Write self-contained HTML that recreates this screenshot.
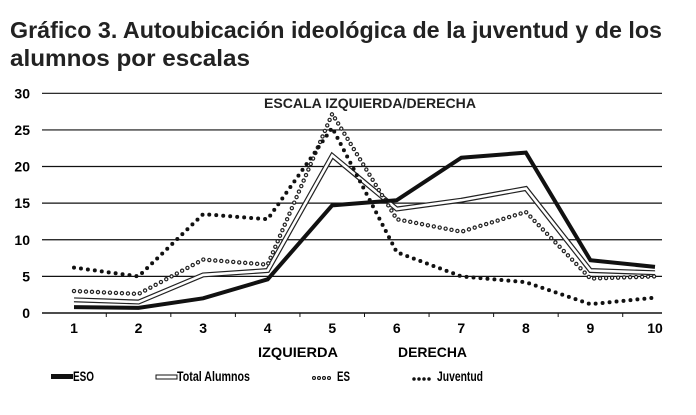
<!DOCTYPE html>
<html><head><meta charset="utf-8"><style>
body{margin:0;background:#fff;}
svg{display:block;font-family:"Liberation Sans Narrow","Liberation Sans",sans-serif;}
</style></head><body>
<svg width="696" height="415" viewBox="0 0 696 415">
<text x="10" y="38" font-size="23" font-weight="bold" fill="#222" textLength="652" lengthAdjust="spacingAndGlyphs">Gráfico 3. Autoubicación ideológica de la juventud y de los</text>
<text x="10" y="66" font-size="23" font-weight="bold" fill="#222" textLength="240" lengthAdjust="spacingAndGlyphs">alumnos por escalas</text>
<text x="264" y="108" font-size="14" font-weight="bold" fill="#222" textLength="212" lengthAdjust="spacingAndGlyphs">ESCALA IZQUIERDA/DERECHA</text>
<g id="grid"></g><g id="axis"></g><g id="series"></g>
<text x="258" y="357" font-size="14" font-weight="bold" textLength="80" lengthAdjust="spacingAndGlyphs">IZQUIERDA</text>
<text x="398" y="357" font-size="14" font-weight="bold" textLength="69" lengthAdjust="spacingAndGlyphs">DERECHA</text>
<g>
<g><rect x="51" y="374" width="22" height="5" fill="#111"/><text x="73" y="381" font-size="14" font-weight="bold" textLength="21" lengthAdjust="spacingAndGlyphs">ESO</text></g>
<g><rect x="156" y="375" width="21" height="4" fill="#fff" stroke="#111" stroke-width="1"/><text x="177" y="381" font-size="14" font-weight="bold" textLength="73" lengthAdjust="spacingAndGlyphs">Total Alumnos</text></g>
<g><path d="M314 378 L330 378" stroke="#111" stroke-width="4" stroke-dasharray="0 5" stroke-linecap="round"/><path d="M314 378 L330 378" stroke="#fff" stroke-width="1.8" stroke-dasharray="0 5" stroke-linecap="round"/><text x="337" y="381" font-size="14" font-weight="bold" textLength="13" lengthAdjust="spacingAndGlyphs">ES</text></g>
<g><path d="M414 379 L430 379" stroke="#111" stroke-width="3.5" stroke-dasharray="0 5" stroke-linecap="round"/><text x="437" y="381" font-size="14" font-weight="bold" textLength="46" lengthAdjust="spacingAndGlyphs">Juventud</text></g>
</g>
</svg>
<script>
const categories=["1","2","3","4","5","6","7","8","9","10"];
const yTicks=[0,5,10,15,20,25,30];
const eso=[0.8,0.7,2,4.6,14.7,15.4,21.2,21.9,7.2,6.3];
const totalAlumnos=[1.8,1.5,5.2,5.8,21.5,14.2,15.4,17,5.8,5.5];
const es=[3,2.6,7.3,6.6,27.2,12.8,11.1,13.8,4.7,5.0];
const juventud=[6.2,5,13.5,12.8,25.3,8.3,5,4.2,1.2,2.1];
const NS="http://www.w3.org/2000/svg";
const x0=74,x1=655,y0=313,y1=93.3,left=42,right=662;
function xs(i){return x0+(x1-x0)*i/(categories.length-1);}
function ys(v){return y0+(y1-y0)*v/30;}
function mk(tag,attrs,parent){const e=document.createElementNS(NS,tag);for(const k in attrs)e.setAttribute(k,attrs[k]);parent.appendChild(e);return e;}
const grid=document.getElementById('grid'),axis=document.getElementById('axis'),ser=document.getElementById('series');
yTicks.forEach(t=>{
 const l=mk('line',{x1:left,x2:right,y1:ys(t),y2:ys(t),stroke:'#111','stroke-width':t===0?1.5:1.2},grid);
 
 
 const tx=mk('text',{x:30,y:ys(t)+5,'font-size':14,'font-weight':'bold','text-anchor':'end'},axis);
 tx.textContent=t;
 
 
});
const step=(x1-x0)/(categories.length-1);
for(let i=0;i<=categories.length;i++){
 const xx=x0-step/2+i*step;if(xx<left||xx>right)continue;
 const tk=mk('line',{x1:xx,x2:xx,y1:y0,y2:y0+4,stroke:'#111','stroke-width':1},axis);
 
 
}
categories.forEach((c,i)=>{
 const tx=mk('text',{x:xs(i),y:333,'font-size':14,'font-weight':'bold','text-anchor':'middle'},axis);
 tx.textContent=c;
 
 
});
function pts(arr){return arr.map((v,i)=>xs(i)+','+ys(v)).join(' ');}
function line(arr,attrs,name){const p=mk('polyline',Object.assign({points:pts(arr),fill:'none','stroke-linejoin':'miter'},attrs),ser);
 
 }
line(totalAlumnos,{stroke:'#222','stroke-width':5},'series-total-outline');
line(totalAlumnos,{stroke:'#fff','stroke-width':2.6},'series-total');
line(es,{stroke:'#222','stroke-width':4.4,'stroke-dasharray':'0 6','stroke-linecap':'round'},'series-es-outline');
line(es,{stroke:'#fff','stroke-width':2,'stroke-dasharray':'0 6','stroke-linecap':'round'},'series-es');
line(juventud,{stroke:'#111','stroke-width':4,'stroke-dasharray':'0 7','stroke-linecap':'round'},'series-juventud');
line(eso,{stroke:'#111','stroke-width':4},'series-eso');
</script>
</body></html>
